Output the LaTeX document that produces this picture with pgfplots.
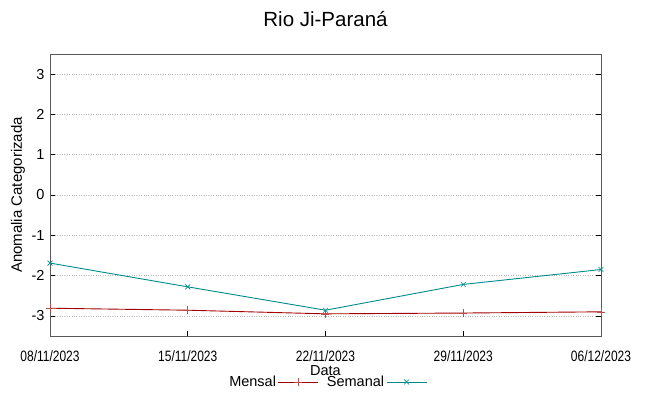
\documentclass[border=0pt]{standalone}
\usepackage{fontspec}
\setmainfont{Liberation Sans}
\newfontfamily\narrowfont[FakeStretch=0.8]{Liberation Sans}
\usepackage{pgfplots}
\pgfplotsset{compat=1.18}
\definecolor{mensal}{HTML}{A00000}
\definecolor{semanal}{HTML}{008B8B}
\begin{document}
\begin{tikzpicture}[x=1pt,y=1pt]
\path[use as bounding box] (0,0) rectangle (649,396);
\begin{axis}[
  at={(50pt,60pt)}, anchor=south west,
  scale only axis, width=551pt, height=282pt,
  xmin=0, xmax=28, ymin=-3.5, ymax=3.5,
  xtick={0,7,14,21,28},
  xticklabels={08/11/2023,15/11/2023,22/11/2023,29/11/2023,06/12/2023},
  ytick={-3,-2,-1,0,1,2,3},
  /pgf/number format/assume math mode=true,
  tick align=inside,
  xtick pos=bottom,
  ytick pos=both,
  major tick length=5pt,
  tick style={black, line width=0.6pt},
  axis line style={gray!70!black, line width=0.8pt},
  ymajorgrids,
  grid style={gray!55, dotted, line width=0.6pt},
  xticklabel style={font=\narrowfont\fontsize{15}{15}\selectfont, yshift=-11pt},
  yticklabel style={font=\fontsize{14.5}{14}\selectfont, xshift=-2pt},
  title={Rio Ji-Paraná},
  title style={font=\fontsize{20.5}{20}\selectfont, at={(0.5,1)}, anchor=base, yshift=22pt},
  xlabel={Data},
  xlabel style={font=\fontsize{14.5}{14}\selectfont, at={(0.5,-0.121)}, anchor=center},
  ylabel={Anomalia Categorizada},
  ylabel style={font=\fontsize{15}{15}\selectfont, at={(-0.058,0.5)}, anchor=center},
  legend columns=2,
  legend plot pos=right,
  legend style={draw=none, fill=none, at={(0.503,-0.163)}, anchor=center,
    font=\fontsize{14.5}{14}\selectfont, inner sep=0pt,
    /tikz/every even column/.append style={column sep=6pt}},
  legend image code/.code={%
    \draw[#1, mark repeat=2, mark phase=2] plot coordinates {(0pt,0pt) (20pt,0pt) (40pt,0pt)};},
]
\addplot[mensal, line width=0.9pt, mark=+, mark size=4pt, mark options={draw=mensal!70!white, line width=0.6pt}] coordinates {
  (0,-2.81) (7,-2.86) (14,-2.95) (21,-2.93) (28,-2.90)};
\addlegendentry{Mensal}
\addplot[semanal, line width=0.9pt, mark=x, mark size=3.5pt, mark options={draw=semanal, line width=0.6pt}] coordinates {
  (0,-1.69) (7,-2.28) (14,-2.86) (21,-2.22) (28,-1.85)};
\addlegendentry{Semanal}
\end{axis}
\end{tikzpicture}
\end{document}
